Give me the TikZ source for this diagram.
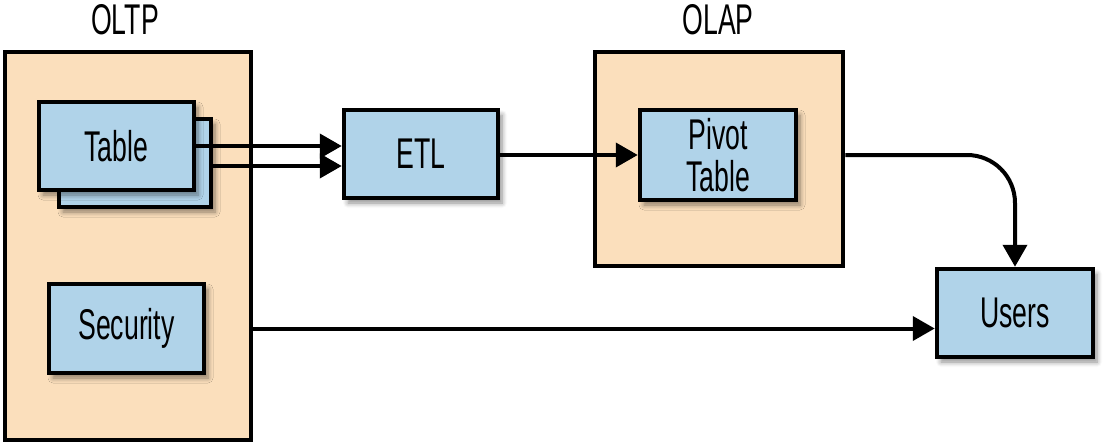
\documentclass[tikz,border=0pt]{standalone}
\usepackage{fontspec}
\setmainfont[FakeStretch=0.62]{Liberation Sans}
\usetikzlibrary{arrows.meta,shadows.blur,calc}
\definecolor{peach}{RGB}{251,223,188}
\definecolor{skyblue}{RGB}{176,211,233}
\tikzset{
  group/.style={draw=black, line width=4.5pt, fill=peach, inner sep=0pt},
  blk/.style={draw=black, line width=4.5pt, fill=skyblue, inner sep=0pt, align=center,
     font=\fontsize{43}{42}\selectfont,
     blur shadow={shadow xshift=4pt, shadow yshift=-5pt, shadow blur steps=6, shadow blur radius=5pt, shadow opacity=45}},
  lbl/.style={font=\fontsize{43}{42}\selectfont, inner sep=0pt},
  conn/.style={line width=4pt, -{Triangle[length=22pt,width=24pt]}},
}
\begin{document}
\begin{tikzpicture}[x=1pt,y=-1pt]
\useasboundingbox (0,0) rectangle (1120,444);
% groups
\node[group, minimum width=246pt, minimum height=388pt] (oltp) at (128,246) {};
\node[group, minimum width=248pt, minimum height=214pt] (olap) at (719,159) {};
\node[lbl] (oltplbl) at (125,20) {OLTP};
\node[lbl] (olaplbl) at (718,20) {OLAP};
% blocks
\node[blk, minimum width=152pt, minimum height=88pt] (tableback) at (135,163) {};
\node[blk, minimum width=155pt, minimum height=88pt] (table) at (116.5,146) {Table};
\node[blk, minimum width=155pt, minimum height=89pt] (security) at (126.5,328.5) {Security};
\node[blk, minimum width=154pt, minimum height=88pt] (etl) at (421,154) {ETL};
\node[blk, minimum width=156pt, minimum height=90pt] (pivot) at (718,155) {Pivot\\Table};
\node[blk, minimum width=156pt, minimum height=88pt] (users) at (1015,313) {Users};
% connectors
\draw[conn] (table.east) -- (etl.west |- table.east);
\draw[conn] ($(tableback.east)+(0,3)$) -- ($(etl.west |- tableback.east)+(0,3)$);
\draw[conn] (etl.east |- pivot.west) -- (pivot.west);
\draw[conn, rounded corners=48pt] (olap.east |- pivot.east) -| (users.north);
\draw[conn] (oltp.east |- security.east) -- (users.west |- security.east);
\end{tikzpicture}
\end{document}
